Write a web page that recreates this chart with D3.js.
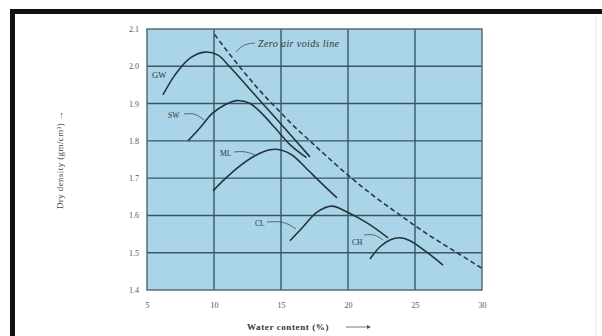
<!DOCTYPE html>
<html>
<head>
<meta charset="utf-8">
<script src="https://cdn.jsdelivr.net/npm/d3@7"></script>
<style>
  html, body { margin: 0; padding: 0; background: #fff; }
  svg { display: block; }
</style>
</head>
<body>
<svg id="chart" width="602" height="336"></svg>
<script>
// ---- data ----
const xTicks = [5, 10, 15, 20, 25, 30];
const yTicks = [1.4, 1.5, 1.6, 1.7, 1.8, 1.9, 2.0, 2.1];
const yTickLabels = ["1.4", "1.5", "1.6", "1.7", "1.8", "1.9", "2.0", "2.1"];

const zavW   = [10.05, 11, 12, 13, 14, 15, 16, 17, 18, 20, 22, 24, 26, 28, 30];
const zavRho = [2.085, 2.04, 1.995, 1.952, 1.912, 1.875, 1.838, 1.805, 1.772, 1.708, 1.650, 1.598, 1.548, 1.503, 1.458];

const gwW   = [6.19, 7.09, 8.21, 9.33, 10.30, 11.19, 13.06, 14.93, 17.16];
const gwRho = [1.923, 1.977, 2.022, 2.038, 2.030, 1.998, 1.923, 1.848, 1.757];

const swW   = [8.06, 8.96, 9.85, 10.82, 11.72, 12.69, 13.58, 14.55, 15.67, 16.9];
const swRho = [1.800, 1.835, 1.873, 1.897, 1.908, 1.900, 1.873, 1.835, 1.790, 1.755];

const mlW   = [9.93, 10.82, 11.94, 13.06, 14.18, 14.93, 15.82, 16.79, 17.91, 19.18];
const mlRho = [1.666, 1.698, 1.733, 1.760, 1.776, 1.776, 1.762, 1.730, 1.690, 1.647];

const clW   = [15.67, 16.64, 17.69, 18.81, 19.93, 21.42, 22.99];
const clRho = [1.532, 1.569, 1.609, 1.625, 1.609, 1.580, 1.540];

const chW   = [21.64, 22.39, 23.13, 23.88, 24.63, 25.75, 27.09];
const chRho = [1.483, 1.516, 1.534, 1.540, 1.532, 1.505, 1.467];

const curveNames = ["GW", "SW", "ML", "CL", "CH"];

// ---- layout ----
const svg = d3.select("#chart");
const x = d3.scaleLinear().domain([5, 30]).range([147, 482]);
const y = d3.scaleLinear().domain([1.4, 2.1]).range([290, 29]);
const serif = "'Liberation Serif', 'DejaVu Serif', serif";

// outer frame (thick black on top and left)
svg.append("rect").attr("x", 12.5).attr("y", 11.5).attr("width", 640).attr("height", 400)
  .attr("fill", "none").attr("stroke", "#111").attr("stroke-width", 5);
svg.append("line").attr("x1", 596).attr("x2", 596).attr("y1", 16).attr("y2", 336)
  .attr("stroke", "#e4e4e4").attr("stroke-width", 1);

// plot background
svg.append("rect").attr("x", x(5)).attr("y", y(2.1))
  .attr("width", x(30) - x(5)).attr("height", y(1.4) - y(2.1))
  .attr("fill", "#aad5e8");

// grid
const gridColor = "#365864";
svg.append("g").selectAll("line").data(xTicks.slice(1, -1)).join("line")
  .attr("x1", d => x(d)).attr("x2", d => x(d))
  .attr("y1", y(2.1)).attr("y2", y(1.4))
  .attr("stroke", gridColor).attr("stroke-width", 1.4);
svg.append("g").selectAll("line").data(yTicks.slice(1, -1)).join("line")
  .attr("x1", x(5)).attr("x2", x(30))
  .attr("y1", d => y(d)).attr("y2", d => y(d))
  .attr("stroke", gridColor).attr("stroke-width", 1.4);
svg.append("rect").attr("x", x(5)).attr("y", y(2.1))
  .attr("width", x(30) - x(5)).attr("height", y(1.4) - y(2.1))
  .attr("fill", "none").attr("stroke", "#4a6570").attr("stroke-width", 1.4);

// axes (labels only, no domain path)
const xAxis = d3.axisBottom(x).tickValues(xTicks).tickSize(0).tickPadding(12).tickFormat(d3.format("d"));
const gx = svg.append("g").attr("transform", `translate(0,${y(1.4)})`).call(xAxis);
gx.select(".domain").remove();
gx.selectAll("text").attr("font-family", serif).attr("font-size", 8).attr("fill", "#555");

const yAxis = d3.axisLeft(y).tickValues(yTicks).tickSize(0).tickPadding(8)
  .tickFormat((d, i) => yTickLabels[i]);
const gy = svg.append("g").attr("transform", `translate(${x(5)},0)`).call(yAxis);
gy.select(".domain").remove();
gy.selectAll("text").attr("font-family", serif).attr("font-size", 8).attr("fill", "#555");

// axis titles
svg.append("text").attr("x", 247).attr("y", 330)
  .attr("font-family", serif).attr("font-size", 9).attr("font-weight", "bold").attr("fill", "#333")
  .attr("letter-spacing", 0.6)
  .text("Water content (%)");
svg.append("line").attr("x1", 346).attr("x2", 367).attr("y1", 327).attr("y2", 327)
  .attr("stroke", "#555").attr("stroke-width", 0.8);
svg.append("path").attr("d", "M367,325 L371,327 L367,329 Z").attr("fill", "#555");

svg.append("text").attr("transform", "translate(63,160) rotate(-90)")
  .attr("text-anchor", "middle")
  .attr("font-family", serif).attr("font-size", 9).attr("fill", "#444")
  .attr("letter-spacing", 0.4)
  .text("Dry density (gm/cm³) →");

// curves
const line = d3.line().x(d => x(d[0])).y(d => y(d[1])).curve(d3.curveCatmullRom.alpha(0.5));
const zip = (a, b) => a.map((v, i) => [v, b[i]]);
const curveData = [zip(gwW, gwRho), zip(swW, swRho), zip(mlW, mlRho), zip(clW, clRho), zip(chW, chRho)];

svg.append("g").selectAll("path").data(curveData).join("path")
  .attr("d", line).attr("fill", "none").attr("stroke", "#26343a").attr("stroke-width", 1.6);

svg.append("path").datum(zip(zavW, zavRho)).attr("d", line)
  .attr("fill", "none").attr("stroke", "#2a3a40").attr("stroke-width", 1.6)
  .attr("stroke-dasharray", "5,3");

// curve labels (pixel anchors of each label in the picture)
const labelX = [152, 168, 220, 255, 352];
const labelY = [78, 118, 156, 226, 245];
const labelSize = [8.5, 7.5, 7.5, 7.5, 7.5];
svg.append("g").selectAll("text").data(curveNames).join("text")
  .attr("x", (d, i) => labelX[i]).attr("y", (d, i) => labelY[i])
  .attr("font-family", serif).attr("font-size", (d, i) => labelSize[i]).attr("fill", "#333")
  .text(d => d);

// leader lines for labels
const leaders = [
  [[184, 114], [195, 113], [204, 120]],
  [[234, 152], [246, 151], [257, 156]],
  [[267, 222], [284, 221], [296, 229]],
  [[364, 235], [375, 234], [383, 240]],
  [[255, 43], [244, 44], [236, 52]]
];
const leaderLine = d3.line().curve(d3.curveBasis);
svg.append("g").selectAll("path").data(leaders).join("path")
  .attr("d", leaderLine).attr("fill", "none").attr("stroke", "#3a4a50").attr("stroke-width", 0.8);

svg.append("text").attr("x", 258).attr("y", 47)
  .attr("font-family", serif).attr("font-size", 10).attr("font-style", "italic").attr("fill", "#333")
  .attr("letter-spacing", 0.4)
  .text("Zero air voids line");
</script>
</body>
</html>
